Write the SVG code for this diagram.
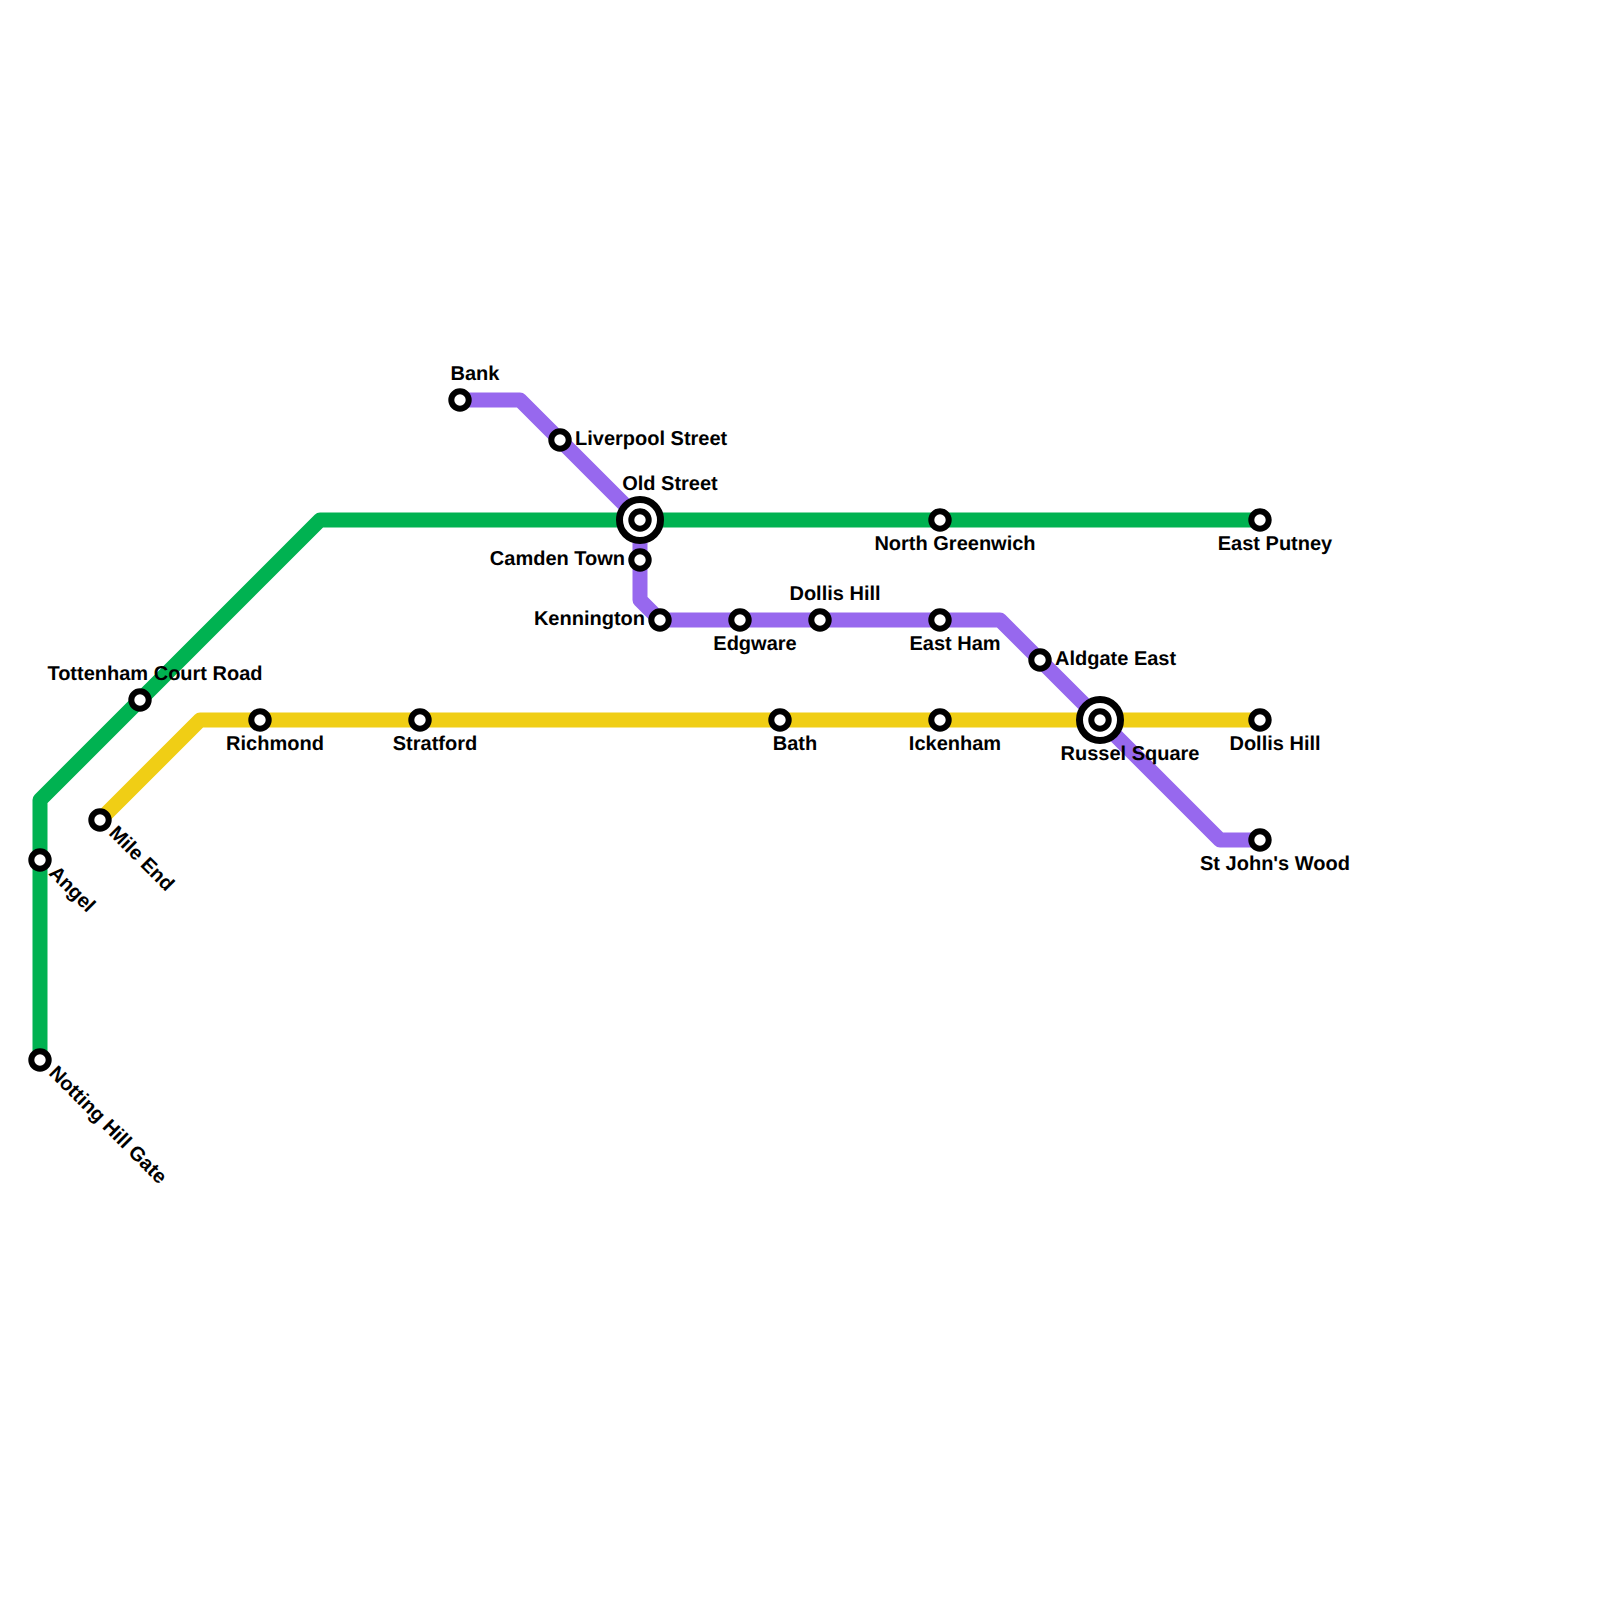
<svg xmlns="http://www.w3.org/2000/svg" width="1600" height="1600" viewBox="0 0 1600 1600">
<style>
.l{fill:none;stroke-width:15;stroke-linejoin:round}
.s{fill:#fff;stroke:#000;stroke-width:6}
.o{fill:#fff;stroke:#000;stroke-width:7}
text{font-family:"Liberation Sans",Arial,sans-serif;font-size:20px;font-weight:700;fill:#000;text-rendering:geometricPrecision}
.m{text-anchor:middle}.e{text-anchor:end}
</style>
<rect width="1600" height="1600" fill="#fff"/>
<g id="connectors">
<path class="l" stroke="#00b251" d="M40 1060V800L320 520H1260"/>
<path class="l" stroke="#f0ce15" d="M100 820L200 720H1260"/>
<path class="l" stroke="#9768ee" d="M460 400H520L640 520V600L660 620H1000L1220 840H1260"/>
</g>
<g id="notting-hill-gate"><circle class="s" cx="40" cy="1060" r="8.7"/><text transform="translate(48 1074) rotate(45)">Notting Hill Gate</text></g>
<g id="angel"><circle class="s" cx="40" cy="860" r="8.7"/><text transform="translate(48 874) rotate(45)">Angel</text></g>
<g id="mile-end"><circle class="s" cx="100" cy="820" r="8.7"/><text transform="translate(108 834) rotate(45)">Mile End</text></g>
<g id="tottenham-court-road"><circle class="s" cx="140" cy="700" r="8.7"/><text x="155" y="680" class="m">Tottenham Court Road</text></g>
<g id="richmond"><circle class="s" cx="260" cy="720" r="8.7"/><text x="275" y="750" class="m">Richmond</text></g>
<g id="stratford"><circle class="s" cx="420" cy="720" r="8.7"/><text x="435" y="750" class="m">Stratford</text></g>
<g id="bath"><circle class="s" cx="780" cy="720" r="8.7"/><text x="795" y="750" class="m">Bath</text></g>
<g id="ickenham"><circle class="s" cx="940" cy="720" r="8.7"/><text x="955" y="750" class="m">Ickenham</text></g>
<g id="dollis-hill-yellow"><circle class="s" cx="1260" cy="720" r="8.7"/><text x="1275" y="750" class="m">Dollis Hill</text></g>
<g id="east-putney"><circle class="s" cx="1260" cy="520" r="8.7"/><text x="1275" y="550" class="m">East Putney</text></g>
<g id="north-greenwich"><circle class="s" cx="940" cy="520" r="8.7"/><text x="955" y="550" class="m">North Greenwich</text></g>
<g id="bank"><circle class="s" cx="460" cy="400" r="8.7"/><text x="475" y="380" class="m">Bank</text></g>
<g id="liverpool-street"><circle class="s" cx="560" cy="440" r="8.7"/><text x="575" y="445">Liverpool Street</text></g>
<g id="old-street"><circle class="o" cx="640" cy="520" r="20.5"/><circle class="s" cx="640" cy="520" r="8.7"/><text x="670" y="490" class="m">Old Street</text></g>
<g id="camden-town"><circle class="s" cx="640" cy="560" r="8.7"/><text x="625" y="565" class="e">Camden Town</text></g>
<g id="kennington"><circle class="s" cx="660" cy="620" r="8.7"/><text x="645" y="625" class="e">Kennington</text></g>
<g id="edgware"><circle class="s" cx="740" cy="620" r="8.7"/><text x="755" y="650" class="m">Edgware</text></g>
<g id="dollis-hill-purple"><circle class="s" cx="820" cy="620" r="8.7"/><text x="835" y="600" class="m">Dollis Hill</text></g>
<g id="east-ham"><circle class="s" cx="940" cy="620" r="8.7"/><text x="955" y="650" class="m">East Ham</text></g>
<g id="aldgate-east"><circle class="s" cx="1040" cy="660" r="8.7"/><text x="1055" y="665">Aldgate East</text></g>
<g id="russel-square"><circle class="o" cx="1100" cy="720" r="20.5"/><circle class="s" cx="1100" cy="720" r="8.7"/><text x="1130" y="760" class="m">Russel Square</text></g>
<g id="st-johns-wood"><circle class="s" cx="1260" cy="840" r="8.7"/><text x="1275" y="870" class="m">St John's Wood</text></g>
</svg>
